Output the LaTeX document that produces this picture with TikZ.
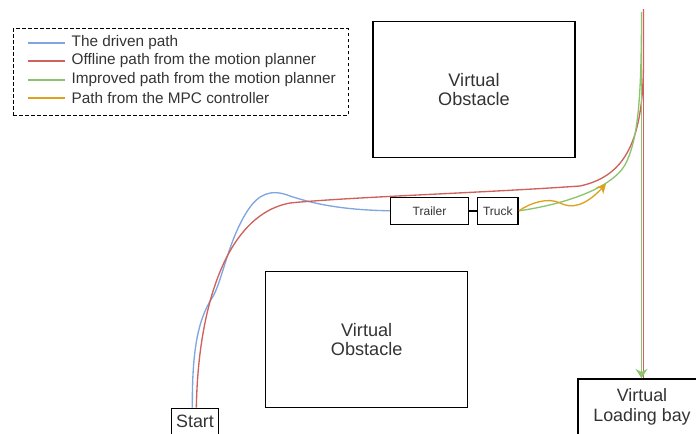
\documentclass[tikz,border=0pt]{standalone}
\usepackage{fontspec}
\setmainfont{Liberation Sans}
\usetikzlibrary{positioning,arrows.meta}
\definecolor{drivenblue}{HTML}{7EA6E0}
\definecolor{offlinered}{HTML}{D0605C}
\definecolor{improvedgreen}{HTML}{8CC46E}
\definecolor{mpcorange}{HTML}{DDA020}
\definecolor{txt}{HTML}{333333}

\begin{document}
\begin{tikzpicture}[x=0.75pt, y=-0.75pt, line width=1pt,
  obstacle/.style={rectangle, draw, line width=1.1pt, minimum width=151.5pt, minimum height=102pt, align=center, text=txt, font=\fontsize{13.6}{14.5}\selectfont},
  vehicle/.style={rectangle, draw, line width=1.1pt, minimum height=20.25pt, inner sep=0pt, text=txt, font=\fontsize{9}{11}\selectfont},
  endbox/.style={rectangle, draw, line width=1.1pt, align=center, inner sep=0pt, text=txt, font=\fontsize{13.4}{14.5}\selectfont},
  legtext/.style={anchor=west, inner sep=0pt, text=txt, font=\fontsize{11.5}{13}\selectfont},
  driven/.style={drivenblue}, offline/.style={offlinered}, improved/.style={improvedgreen}, mpc/.style={mpcorange}]
  {
  \clip (0,0) rectangle (696,433);

  \node[obstacle] (obsA) at (474,89.7) {Virtual\\Obstacle};
  \node[obstacle] (obsB) at (366.7,339.7) {Virtual\\Obstacle};
  \node[vehicle, minimum width=58.2pt] (trailer) at (429.5,210.8) {Trailer};
  \node[vehicle, minimum width=30.5pt, right=5.8pt of trailer] (truck) {Truck};
  \node[endbox, minimum width=35pt, minimum height=20pt] (start) at (195,421.7) {Start};
  \node[endbox, minimum width=96pt, minimum height=42pt] (bay) at (642,407) {Virtual\\Loading bay};
  \draw[line width=1.1pt] (trailer) -- (truck);

  \node[draw, dash pattern=on 2.5pt off 2pt, line width=0.8pt, minimum width=251pt, minimum height=65.3pt] (legend) at (180.7,72.2) {};
  \node[legtext] (lgdriven) at (71,43) {The driven path};
  \node[legtext] (lgoffline) at (71,61) {Offline path from the motion planner};
  \node[legtext] (lgimproved) at (71,80) {Improved path from the motion planner};
  \node[legtext] (lgmpc) at (71,98) {Path from the MPC controller};
  \foreach \n/\s in {lgdriven/driven, lgoffline/offline, lgimproved/improved, lgmpc/mpc}
    \draw[\s, line width=1.5pt] ([xshift=-32.25pt]\n.west) -- ([xshift=-4.5pt]\n.west);

  \coordinate (topR) at (643.5,9);
  \coordinate (topG) at (641.5,12);

  \draw[driven] ([xshift=-2pt]start.north) .. controls (192,350) and (198,320) .. (212,298)
    .. controls (222,283) and (228,240) .. (248,210) .. controls (258,195) and (270,188) .. (290,196)
    .. controls (320,206) and (350,210) .. (trailer.west);
  \draw[offline] ([xshift=1pt]start.north) .. controls (198,310) and (225,215) .. (290,203)
    .. controls (350,197) and (480,193) .. (580,186) .. controls (626,176) and (643.5,140) .. (643.5,60) -- (topR);
  \draw[offline, line width=1.2pt] (topR) -- (topR |- bay.north);
  \draw[improved] (truck.east) .. controls (560,205) and (610,190) .. (625,165)
    .. controls (638,140) and (641.5,100) .. (topG);
  \draw[improved, line width=1.2pt, -{Stealth[length=7pt, width=9pt]}] (topG) -- (topG |- bay.north);
  \draw[mpc, -{Stealth[length=7pt, width=7.5pt]}] (truck.east) .. controls (530,203) and (548,197) .. (560,203)
    .. controls (572,209) and (585,206) .. (606,184);
  }
\end{tikzpicture}
\end{document}
